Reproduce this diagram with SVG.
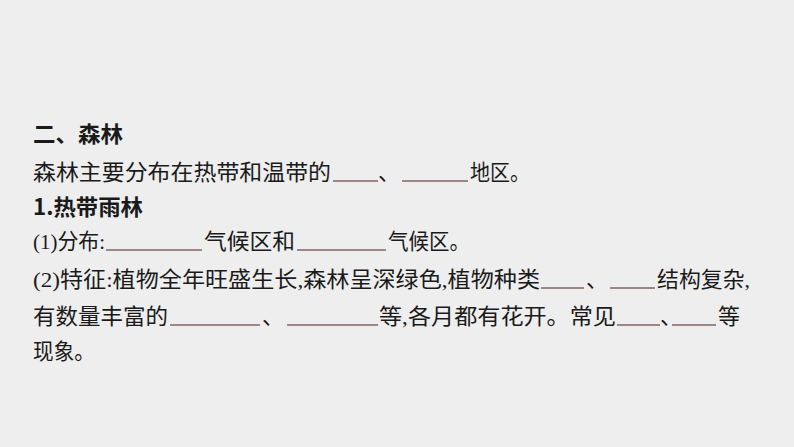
<svg xmlns="http://www.w3.org/2000/svg" width="794" height="447" viewBox="0 0 794 447">
<style>
text{font-family:"Liberation Serif","Noto Sans CJK SC",serif;font-size:22px;fill:#1a1a1a}
.b{font-weight:bold;font-family:"Noto Sans CJK SC",sans-serif}
.u{stroke:#4a2020;stroke-width:1.2}
</style>
<rect width="794" height="447" fill="#eeeeee"/>
<g id="text">
<text class="b" x="33" y="142" textLength="90" lengthAdjust="spacingAndGlyphs">二、森林</text>
<text x="33" y="180" textLength="298" lengthAdjust="spacingAndGlyphs">森林主要分布在热带和温带的</text>
<text x="378" y="180">、</text>
<text x="470" y="180" textLength="60" lengthAdjust="spacingAndGlyphs">地区。</text>
<text class="b" x="33" y="215" textLength="110" lengthAdjust="spacingAndGlyphs">1.热带雨林</text>
<text x="33" y="249" textLength="72" lengthAdjust="spacingAndGlyphs">(1)分布:</text>
<text x="204" y="249" textLength="91" lengthAdjust="spacingAndGlyphs">气候区和</text>
<text x="388" y="249" textLength="82" lengthAdjust="spacingAndGlyphs">气候区。</text>
<text x="33" y="287" textLength="507" lengthAdjust="spacingAndGlyphs">(2)特征:植物全年旺盛生长,森林呈深绿色,植物种类</text>
<text x="586" y="287">、</text>
<text x="657" y="287" textLength="93" lengthAdjust="spacingAndGlyphs">结构复杂,</text>
<text x="33" y="324" textLength="135" lengthAdjust="spacingAndGlyphs">有数量丰富的</text>
<text x="262" y="324">、</text>
<text x="379" y="324" textLength="237" lengthAdjust="spacingAndGlyphs">等,各月都有花开。常见</text>
<text x="660" y="324">、</text>
<text x="718" y="324" textLength="22" lengthAdjust="spacingAndGlyphs">等</text>
<text x="33" y="359" textLength="62" lengthAdjust="spacingAndGlyphs">现象。</text>
</g>
<g id="blanks" class="u">
<line x1="333" y1="181" x2="378" y2="181"/>
<line x1="402" y1="181" x2="468" y2="181"/>
<line x1="106" y1="250" x2="202" y2="250"/>
<line x1="297" y1="250" x2="386" y2="250"/>
<line x1="541" y1="288" x2="584" y2="288"/>
<line x1="610" y1="288" x2="655" y2="288"/>
<line x1="170" y1="325" x2="260" y2="325"/>
<line x1="287" y1="325" x2="378" y2="325"/>
<line x1="617" y1="325" x2="660" y2="325"/>
<line x1="672" y1="325" x2="716" y2="325"/>
</g>
</svg>
